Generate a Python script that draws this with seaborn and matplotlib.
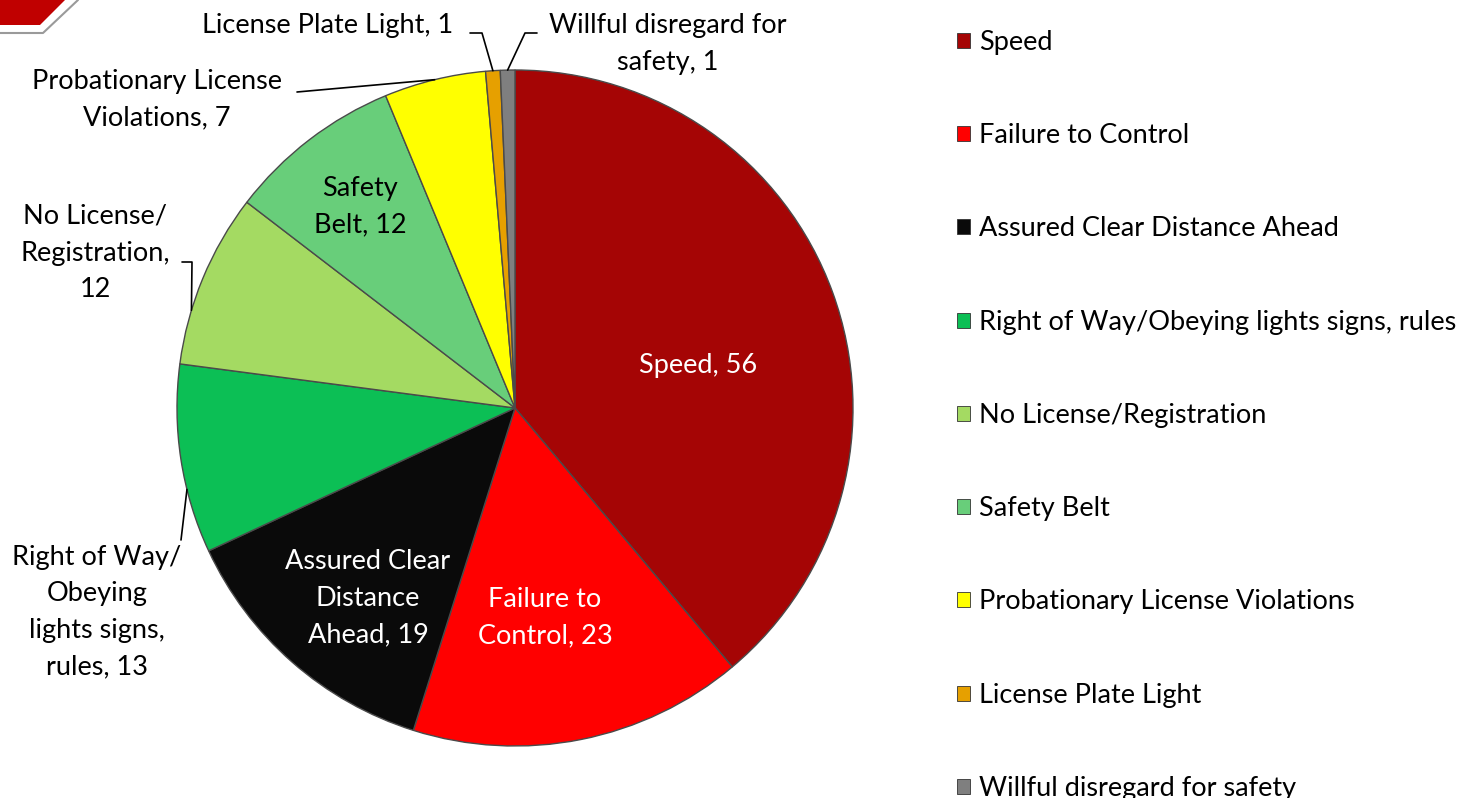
import matplotlib
matplotlib.use("Agg")
import matplotlib.pyplot as plt
import seaborn as sns
from matplotlib.patches import Polygon, Patch
import numpy as np

# datos
categorias = ["Speed", "Failure to Control", "Assured Clear Distance Ahead",
              "Right of Way/Obeying lights signs, rules", "No License/Registration",
              "Safety Belt", "Probationary License Violations", "License Plate Light",
              "Willful disregard for safety"]
valores = [56, 23, 19, 13, 12, 12, 7, 1, 1]
etiquetas = ["Speed, 56", "Failure to\nControl, 23", "Assured Clear\nDistance\nAhead, 19",
             "Right of Way/\nObeying\nlights signs,\nrules, 13", "No License/\nRegistration,\n12",
             "Safety\nBelt, 12", "Probationary License\nViolations, 7", "License Plate Light, 1",
             "Willful disregard for\nsafety, 1"]
colores = ["#A50505", "#FF0000", "#0A0A0A", "#0CBF55", "#A4DA62",
           "#68CE7A", "#FFFF00", "#E6A000", "#7F7F7F"]

sns.set_theme(style="white")
plt.rcParams["font.family"] = ["Lato", "DejaVu Sans"]
plt.rcParams["text.color"] = "black"

W, H = 1465, 798
fig = plt.figure(figsize=(W / 100, H / 100), dpi=100)
ax = fig.add_axes([0, 0, 1, 1])

cx, cy, r = 515, H - 408, 338
wedges, _ = ax.pie(valores, colors=colores, startangle=90, counterclock=False,
                   center=(cx, cy), radius=r,
                   wedgeprops=dict(edgecolor="#4a4a4a", linewidth=1.0))
ax.set_xlim(0, W)
ax.set_ylim(0, H)
ax.set_aspect("equal")
ax.axis("off")

# angulos de cada cuña (sentido horario desde arriba)
total = sum(valores)
acum = np.concatenate([[0], np.cumsum(valores)])

# posiciones de etiquetas (pixeles desde arriba), color, ancla relativa en la cuña, codo
fs = 19.5
pos = [
    (698, 365, "white", None, None),
    (545, 618, "white", None, None),
    (368, 598, "white", None, None),
    (97, 612, "black", 0.34, [(181, 540)]),
    (95, 253, "black", 0.31, [(182, 262), (192, 262)]),
    (360, 207, "black", None, None),
    (157, 100, "black", 0.5, [(297, 92)]),
    (328, 25, "black", 0.5, [(470, 33), (482, 33)]),
    (668, 44, "black", 0.5, [(537, 33), (525, 33)]),
]
for i, (txt, (px, py, col, frac, codo)) in enumerate(zip(etiquetas, pos)):
    ax.text(px, H - py, txt, ha="center", va="center", color=col,
            fontsize=fs, linespacing=1.58)
    if frac is not None:
        cw = 360 * (acum[i] + frac * valores[i]) / total
        ang = np.deg2rad(90 - cw)
        ex, ey = cx + r * np.cos(ang), cy + r * np.sin(ang)
        xs = [c[0] for c in codo] + [ex]
        ys = [H - c[1] for c in codo] + [ey]
        ax.plot(xs, ys, color="black", lw=1.2)

# leyenda
handles = [Patch(facecolor=c, edgecolor="#333333", linewidth=0.6) for c in colores]
leg = ax.legend(handles, categorias, loc="upper left", bbox_to_anchor=(957 / W, 1 - 30 / H),
                bbox_transform=fig.transFigure, frameon=False, fontsize=fs,
                handlelength=0.48, handleheight=0.48, handletextpad=0.35,
                labelspacing=2.52, borderaxespad=0, borderpad=0)
for t in leg.get_texts():
    t.set_color("black")

# decoracion esquina superior izquierda
ax.add_patch(Polygon([(0, H), (65, H), (40, H - 25), (0, H - 25)], closed=True,
                     facecolor="#C00000", edgecolor="none"))
ax.plot([0, 43, 78], [H - 33, H - 33, H], color="#9a9a9a", lw=1.5)

fig.savefig("out.png", dpi=100)
